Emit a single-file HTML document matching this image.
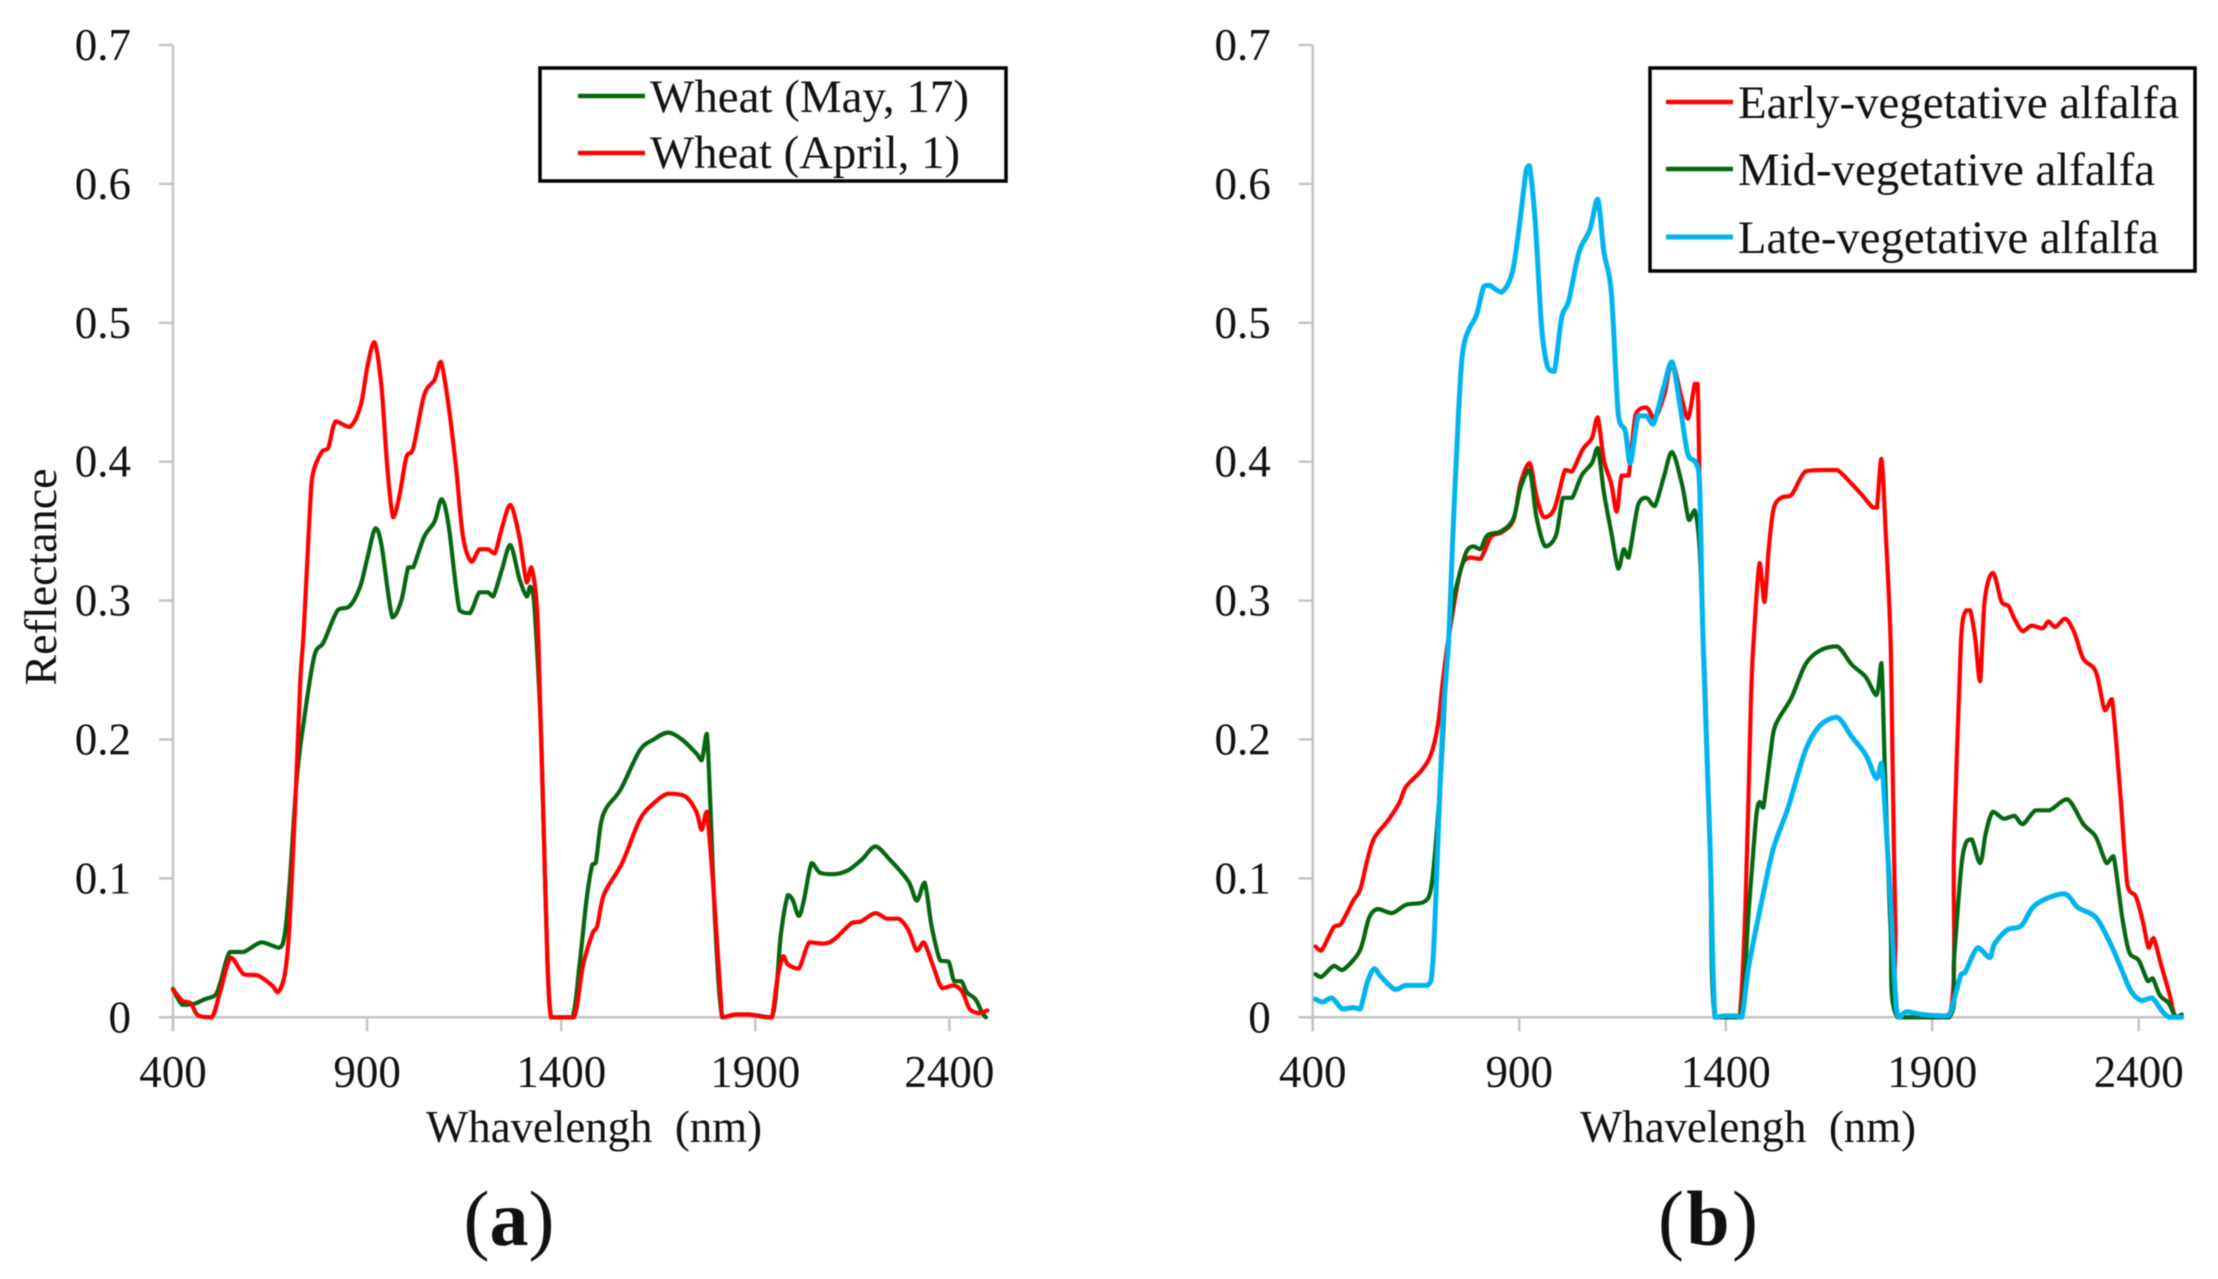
<!DOCTYPE html>
<html lang="en">
<head>
<meta charset="utf-8">
<title>Reflectance spectra of wheat and alfalfa</title>
<style>
html,body{margin:0;padding:0;background:#fff;}
svg{display:block;font-family:"Liberation Serif",serif;fill:#111;filter:blur(0.6px);}
.tick{font-size:45px;}
.title{font-size:46px;}
.legend{font-size:47px;}
.sub{font-size:78px;}
</style>
</head>
<body>
<svg id="figure" width="2218" height="1279" viewBox="0 0 2218 1279" xmlns="http://www.w3.org/2000/svg">
  <g id="panel-a">
    <g id="plot-a"></g>
    <text class="title" transform="translate(56 577) rotate(-90)" text-anchor="middle">Reflectance</text>
    <text class="title" x="594" y="1142" text-anchor="middle" xml:space="preserve" textLength="336" lengthAdjust="spacingAndGlyphs">Whavelengh  (nm)</text>
    <g>
      <rect x="540" y="68" width="466" height="113" fill="#fff" stroke="#000" stroke-width="3.5"/>
      <line x1="578" y1="96" x2="645" y2="96" stroke="#05670f" stroke-width="4.5"/>
      <text class="legend" x="650" y="112" textLength="319" lengthAdjust="spacingAndGlyphs">Wheat (May, 17)</text>
      <line x1="578" y1="153" x2="645" y2="153" stroke="#f00" stroke-width="4.5"/>
      <text class="legend" x="650" y="168" textLength="310" lengthAdjust="spacingAndGlyphs">Wheat (April, 1)</text>
    </g>
    <text class="sub" x="509" y="1245" text-anchor="middle">(<tspan font-weight="bold">a</tspan>)</text>
  </g>
  <g id="panel-b">
    <g id="plot-b"></g>
    <text class="title" x="1748" y="1142" text-anchor="middle" xml:space="preserve" textLength="336" lengthAdjust="spacingAndGlyphs">Whavelengh  (nm)</text>
    <g>
      <rect x="1650" y="68" width="545" height="203" fill="#fff" stroke="#000" stroke-width="3.5"/>
      <line x1="1666" y1="102" x2="1733" y2="102" stroke="#f00" stroke-width="4.5"/>
      <text class="legend" x="1738" y="118" textLength="441" lengthAdjust="spacingAndGlyphs">Early-vegetative alfalfa</text>
      <line x1="1666" y1="169" x2="1733" y2="169" stroke="#05670f" stroke-width="4.5"/>
      <text class="legend" x="1738" y="185" textLength="417" lengthAdjust="spacingAndGlyphs">Mid-vegetative alfalfa</text>
      <line x1="1666" y1="237" x2="1733" y2="237" stroke="#00b4ef" stroke-width="5"/>
      <text class="legend" x="1738" y="253" textLength="421" lengthAdjust="spacingAndGlyphs">Late-vegetative alfalfa</text>
    </g>
    <text class="sub" x="1708" y="1245" text-anchor="middle" textLength="100" lengthAdjust="spacing">(<tspan font-weight="bold">b</tspan>)</text>
  </g>
</svg>
<script>
const xTickValues = [400, 900, 1400, 1900, 2400];
const yTickValues = [0, 0.1, 0.2, 0.3, 0.4, 0.5, 0.6, 0.7];
const yTickLabels = ['0', '0.1', '0.2', '0.3', '0.4', '0.5', '0.6', '0.7'];

const wheatMayWavelengths = [400,424,455,482,509,522,546,582,628,673,688,700,719,737,764,788,824,855,882,901,921,937,965,988,1006,1019,1047,1074,1092,1110,1138,1165,1189,1211,1225,1247,1269,1292,1311,1320,1330,1347,1356,1365,1374,1393,1429,1447,1465,1480,1489,1502,1517,1553,1602,1638,1675,1711,1748,1762,1775,1784,1797,1815,1848,1884,1943,1966,1984,1997,2012,2025,2045,2067,2103,2140,2176,2209,2245,2294,2316,2336,2354,2376,2398,2412,2431,2445,2467,2485,2494];
const wheatMayValues = [.0205,.009,.0097,.013,.016,.025,.047,.047,.054,.05,.06,.095,.172,.213,.26,.27,.293,.296,.31,.331,.352,.34,.288,.3,.324,.324,.346,.357,.373,.354,.293,.291,.306,.306,.303,.322,.34,.316,.303,.31,.3,.213,.125,.037,0,0,0,.037,.084,.11,.111,.139,.151,.164,.192,.2,.205,.2,.19,.185,.204,.154,.066,0,.002,.002,0,.06,.088,.084,.073,.084,.111,.104,.103,.106,.114,.123,.114,.098,.084,.097,.066,.041,.04,.026,.026,.018,.013,.003,0];

const wheatAprilWavelengths = [400,424,446,464,500,522,549,582,619,655,670,688,700,715,728,737,753,761,783,800,819,855,883,901,919,937,952,967,983,1001,1019,1047,1074,1090,1110,1129,1147,1169,1189,1211,1229,1247,1269,1292,1311,1323,1338,1347,1356,1365,1374,1393,1433,1456,1480,1493,1511,1557,1602,1638,1675,1720,1748,1762,1775,1793,1811,1817,1848,1884,1930,1943,1957,1972,1984,2012,2039,2076,2103,2149,2172,2209,2239,2270,2294,2316,2334,2358,2381,2412,2434,2452,2476,2498];
const wheatAprilValues = [.02,.012,.01,.0015,0,.019,.043,.031,.03,.023,.018,.031,.066,.154,.242,.279,.367,.392,.407,.41,.429,.425,.44,.469,.486,.454,.396,.36,.375,.403,.41,.448,.459,.472,.44,.396,.346,.328,.337,.337,.334,.352,.369,.346,.313,.324,.293,.213,.125,.037,0,0,0,.037,.06,.066,.089,.111,.142,.154,.161,.159,.148,.135,.148,.089,.013,0,.002,.002,0,0,.028,.044,.038,.035,.054,.053,.056,.068,.069,.075,.071,.071,.063,.048,.054,.037,.021,.023,.018,.006,.003,.005];

const alfalfaEarlyWavelengths = [407,421,451,468,498,515,532,549,583,609,626,664,686,703,715,729,758,780,806,832,857,886,903,925,942,960,985,1011,1028,1054,1076,1090,1105,1123,1136,1148,1165,1182,1208,1228,1251,1270,1294,1309,1325,1332,1337,1345,1350,1362,1374,1422,1434,1448,1461,1468,1482,1494,1504,1516,1534,1559,1593,1636,1670,1705,1730,1756,1766,1777,1787,1799,1804,1811,1820,1941,1953,1970,1982,1992,2004,2016,2027,2047,2068,2085,2099,2119,2141,2167,2181,2198,2222,2244,2266,2296,2318,2335,2355,2373,2393,2410,2424,2436,2455,2475,2487,2504];
const alfalfaEarlyValues = [.051,.048,.065,.067,.084,.092,.113,.129,.142,.154,.166,.178,.189,.21,.242,.273,.322,.331,.33,.346,.349,.358,.384,.399,.375,.36,.366,.394,.393,.409,.417,.432,.401,.384,.364,.39,.39,.434,.439,.431,.448,.471,.445,.431,.456,.456,.381,.273,.242,.125,0,0,0,.081,.227,.273,.327,.299,.337,.366,.374,.376,.393,.394,.394,.384,.376,.367,.367,.402,.352,.273,.183,.066,0,0,.125,.273,.293,.293,.273,.242,.3,.32,.299,.296,.287,.278,.282,.28,.285,.281,.287,.277,.258,.249,.221,.229,.163,.095,.087,.069,.05,.057,.037,.016,.0015,0];

const alfalfaMidWavelengths = [407,421,451,472,506,520,537,558,592,626,669,686,698,712,725,737,746,772,789,806,823,857,886,903,925,942,963,989,1006,1028,1051,1076,1090,1105,1123,1140,1153,1165,1188,1208,1228,1251,1270,1294,1311,1325,1337,1345,1362,1374,1434,1456,1474,1482,1491,1508,1520,1559,1593,1628,1670,1705,1739,1765,1777,1785,1799,1816,1941,1953,1970,1982,1996,2016,2030,2047,2073,2099,2119,2150,2184,2227,2266,2296,2322,2339,2360,2377,2400,2422,2434,2451,2473,2490,2504];
const alfalfaMidValues = [.031,.029,.037,.034,.044,.053,.072,.078,.075,.081,.083,.092,.125,.183,.257,.293,.308,.335,.339,.337,.347,.35,.359,.381,.394,.36,.339,.347,.374,.374,.39,.399,.41,.378,.349,.323,.337,.331,.369,.374,.368,.39,.407,.384,.358,.365,.337,.273,.125,0,0,.078,.145,.155,.151,.189,.21,.23,.254,.264,.267,.254,.245,.232,.255,.183,.066,0,0,.043,.107,.126,.128,.111,.133,.148,.143,.145,.139,.149,.149,.157,.139,.13,.111,.116,.072,.047,.041,.026,.028,.016,.01,0,.002];

const alfalfaLateWavelengths = [407,424,446,472,498,515,532,549,566,600,626,677,691,703,715,729,740,753,761,769,781,797,814,828,857,883,900,917,925,939,954,968,985,1003,1020,1045,1071,1090,1105,1123,1140,1157,1169,1188,1208,1225,1251,1270,1290,1308,1328,1337,1345,1362,1374,1397,1422,1439,1456,1491,1516,1551,1593,1628,1670,1705,1739,1765,1777,1785,1799,1813,1821,1838,1876,1936,1953,1970,1979,2010,2039,2051,2082,2116,2150,2218,2253,2296,2330,2355,2381,2407,2432,2458,2475,2504];
const alfalfaLateValues = [.013,.011,.014,.006,.007,.006,.025,.035,.029,.02,.023,.023,.04,.125,.213,.271,.351,.435,.473,.488,.497,.506,.526,.527,.522,.536,.569,.61,.613,.572,.498,.469,.465,.504,.516,.551,.567,.589,.551,.522,.434,.422,.399,.433,.433,.427,.455,.472,.439,.406,.399,.381,.273,.125,0,.001,.001,0,.037,.089,.122,.151,.192,.21,.216,.202,.189,.172,.183,.154,.084,.007,0,.004,.002,.001,.013,.031,.032,.05,.043,.053,.063,.066,.081,.089,.079,.072,.054,.037,.019,.012,.014,.004,0,0];

const SVG_NS = 'http://www.w3.org/2000/svg';
const panelA = { x400: 173, pxPerNm: 194.1 / 500, y0: 1017.3, pxPerUnit: 1389, xEnd: 2500 };
const panelB = { x400: 1312.7, pxPerNm: 206.5 / 500, y0: 1017.3, pxPerUnit: 1389, xEnd: 2500 };

function xScale(p, nm) { return p.x400 + (nm - 400) * p.pxPerNm; }
function yScale(p, v) { return p.y0 - v * p.pxPerUnit; }

function makeLine(x1, y1, x2, y2) {
  const l = document.createElementNS(SVG_NS, 'line');
  l.setAttribute('x1', x1.toFixed(1));
  l.setAttribute('y1', y1.toFixed(1));
  l.setAttribute('x2', x2.toFixed(1));
  l.setAttribute('y2', y2.toFixed(1));
  l.setAttribute('stroke', '#c4c4c4');
  l.setAttribute('stroke-width', '2.5');
  return l;
}

function drawAxes(group, p) {
  const xAxis = makeLine(xScale(p, 400), p.y0, xScale(p, p.xEnd), p.y0);
  
  
  group.appendChild(xAxis);
  const yAxis = makeLine(p.x400, yScale(p, 0.7), p.x400, p.y0 + 14);
  
  
  group.appendChild(yAxis);

  yTickValues.forEach(function (v, i) {
    const y = yScale(p, v);
    const t = makeLine(p.x400 - 14, y, p.x400, y);
    
    
    group.appendChild(t);
    const label = document.createElementNS(SVG_NS, 'text');
    
    
    label.setAttribute('class', 'tick');
    label.setAttribute('x', (p.x400 - 42).toFixed(1));
    label.setAttribute('y', (y + 15).toFixed(1));
    label.setAttribute('text-anchor', 'end');
    label.textContent = yTickLabels[i];
    group.appendChild(label);
  });

  xTickValues.forEach(function (nm) {
    const x = xScale(p, nm);
    const t = makeLine(x, p.y0, x, p.y0 + 14);
    
    
    group.appendChild(t);
    const label = document.createElementNS(SVG_NS, 'text');
    
    
    label.setAttribute('class', 'tick');
    label.setAttribute('x', x.toFixed(1));
    label.setAttribute('y', '1087');
    label.setAttribute('text-anchor', 'middle');
    label.textContent = String(nm);
    group.appendChild(label);
  });
}

function clampBetween(v, a, b) {
  return Math.min(Math.max(v, Math.min(a, b)), Math.max(a, b));
}

function seriesPath(p, wavelengths, values) {
  const pts = wavelengths.map(function (nm, i) {
    return [xScale(p, nm), yScale(p, values[i])];
  });
  let d = 'M' + pts[0][0].toFixed(1) + ' ' + pts[0][1].toFixed(1);
  const k = 0.16;
  for (let i = 0; i < pts.length - 1; i++) {
    const a = pts[Math.max(0, i - 1)];
    const b = pts[i];
    const c = pts[i + 1];
    const e = pts[Math.min(pts.length - 1, i + 2)];
    const c1x = b[0] + (c[0] - a[0]) * k;
    const c1y = clampBetween(b[1] + (c[1] - a[1]) * k, b[1], c[1]);
    const c2x = c[0] - (e[0] - b[0]) * k;
    const c2y = clampBetween(c[1] - (e[1] - b[1]) * k, b[1], c[1]);
    d += 'C' + c1x.toFixed(1) + ' ' + c1y.toFixed(1) + ' ' + c2x.toFixed(1) + ' ' + c2y.toFixed(1) + ' ' + c[0].toFixed(1) + ' ' + c[1].toFixed(1);
  }
  return d;
}

function drawSeries(group, p, wavelengths, values, color, width, name) {
  const path = document.createElementNS(SVG_NS, 'path');
  
  
  path.setAttribute('d', seriesPath(p, wavelengths, values));
  path.setAttribute('fill', 'none');
  path.setAttribute('stroke', color);
  path.setAttribute('stroke-width', width);
  path.setAttribute('stroke-linejoin', 'round');
  path.setAttribute('stroke-linecap', 'round');
  group.appendChild(path);
}

const plotA = document.getElementById('plot-a');
const plotB = document.getElementById('plot-b');
drawAxes(plotA, panelA);
drawAxes(plotB, panelB);
drawSeries(plotA, panelA, wheatMayWavelengths, wheatMayValues, '#05670f', 4.2, 'series-wheat-may');
drawSeries(plotA, panelA, wheatAprilWavelengths, wheatAprilValues, '#f00', 4.2, 'series-wheat-april');
drawSeries(plotB, panelB, alfalfaEarlyWavelengths, alfalfaEarlyValues, '#f00', 4.2, 'series-early-vegetative');
drawSeries(plotB, panelB, alfalfaMidWavelengths, alfalfaMidValues, '#05670f', 4.2, 'series-mid-vegetative');
drawSeries(plotB, panelB, alfalfaLateWavelengths, alfalfaLateValues, '#00b4ef', 5, 'series-late-vegetative');
</script>
</body>
</html>
